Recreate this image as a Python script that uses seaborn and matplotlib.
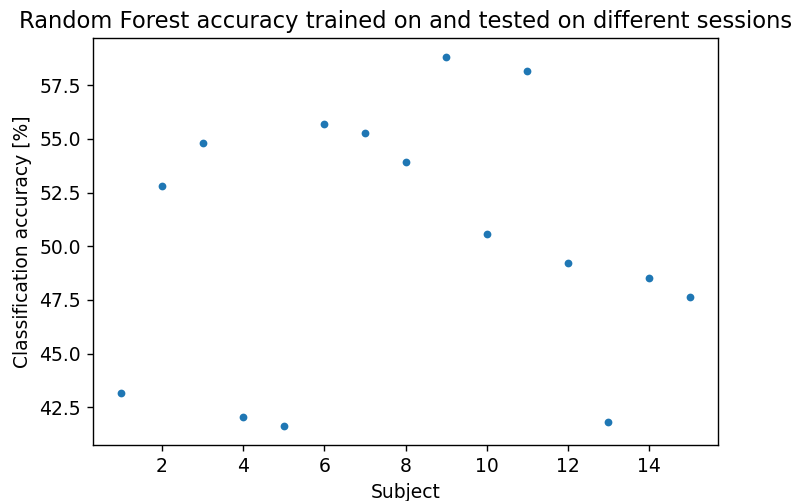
import matplotlib
matplotlib.use("Agg")
import matplotlib.pyplot as plt
import seaborn as sns
import pandas as pd

# Accuracy per subject
subjects = [1, 2, 3, 4, 5, 6, 7, 8, 9, 10, 11, 12, 13, 14, 15]
accuracy = [43.17, 52.79, 54.79, 42.05, 41.60, 55.70, 55.26, 53.91,
            58.84, 50.56, 58.15, 49.21, 41.83, 48.54, 47.65]

df = pd.DataFrame({'Subject': subjects, 'Accuracy': accuracy})

plt.rcParams['font.size'] = 10.8

fig = plt.figure(figsize=(791 / 125, 501 / 125), dpi=125)
ax = fig.add_axes([93 / 791, 1 - 445 / 501, (718 - 93) / 791, (445 - 38) / 501])

sns.scatterplot(data=df, x='Subject', y='Accuracy', ax=ax,
                color='#1f77b4', s=20, linewidth=0)

ax.set_title('Random Forest accuracy trained on and tested on different sessions', fontsize=13)
ax.set_xlabel('Subject')
ax.set_ylabel('Classification accuracy [%]')

fig.savefig('out.png', dpi=125)
